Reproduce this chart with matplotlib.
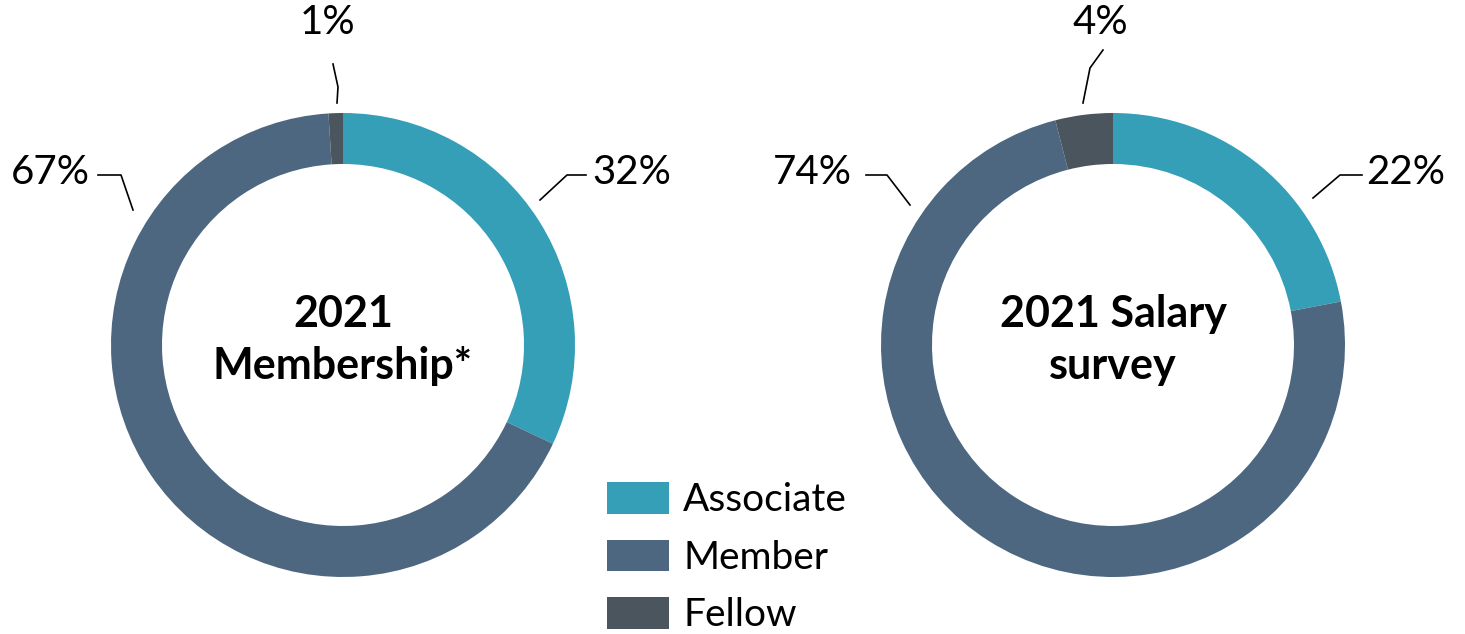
import matplotlib.pyplot as plt

categories = ["Associate", "Member", "Fellow"]
membership = [32, 67, 1]
salary = [22, 74, 4]
titles = ["2021\nMembership*", "2021 Salary\nsurvey"]
colors = ["#359fb8", "#4d6781", "#4a555e"]

plt.rcParams['font.family'] = ['Lato', 'DejaVu Sans']

W, H = 1465, 634
fig = plt.figure(figsize=(W / 100, H / 100), dpi=100)
ax = fig.add_axes([0, 0, 1, 1])

def Y(y):
    # image pixel row -> data y
    return H - y

R = 232
ring = 51
centers = [(343, Y(345)), (1113, Y(345))]

wedges = None
for vals, c, title in zip([membership, salary], centers, titles):
    w, _ = ax.pie(vals, colors=colors, startangle=90, counterclock=False,
                  radius=R, center=c, frame=True,
                  wedgeprops=dict(width=ring, linewidth=0))
    if wedges is None:
        wedges = w
    ax.text(c[0], c[1] + 5, title, ha="center", va="center",
            fontsize=31, fontweight="bold", linespacing=1.35)

# percentage labels with leader lines (label pos, leader path)
labels = [
    (f"{membership[2]}%", 328, 22, [(333, 64), (338, 87), (337, 103)]),
    (f"{membership[0]}%", 632, 172, [(586, 175), (567, 175), (540, 200)]),
    (f"{membership[1]}%", 50, 172, [(98, 175), (121, 175), (133, 210)]),
    (f"{salary[2]}%", 1100, 22, [(1103, 50), (1090, 68), (1083, 103)]),
    (f"{salary[0]}%", 1406, 172, [(1362, 175), (1340, 175), (1313, 198)]),
    (f"{salary[1]}%", 812, 172, [(866, 175), (887, 175), (910, 205)]),
]
for txt, x, y, path in labels:
    ax.text(x, Y(y), txt, ha="center", va="center", fontsize=29)
    ax.plot([p[0] for p in path], [Y(p[1]) for p in path],
            color="black", linewidth=1.2)

ax.set_xlim(0, W)
ax.set_ylim(0, H)
ax.set_aspect("equal")
ax.axis("off")

fig.legend(wedges, categories, loc="upper left",
           bbox_to_anchor=(607 / W, 1 - 482 / H), frameon=False,
           fontsize=28, handlelength=1.6, handleheight=0.87,
           handletextpad=0.36, labelspacing=0.55, borderpad=0,
           borderaxespad=0)

fig.savefig("out.png", dpi=100, facecolor="white")
